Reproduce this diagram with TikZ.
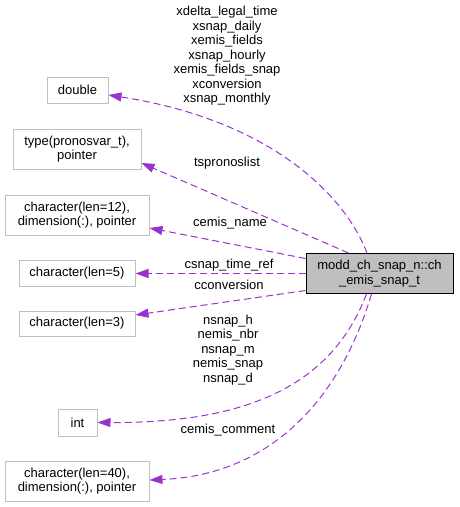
\documentclass[tikz,border=0pt]{standalone}
\usepackage{fontspec}
\setmainfont{Liberation Sans}
\usepackage{xcolor}
\usetikzlibrary{arrows.meta}
\definecolor{edgepurple}{HTML}{9A32CD}
\definecolor{boxgray}{HTML}{BFBFBF}

\begin{document}
\begin{tikzpicture}[x=1pt, y=-1pt, >={Triangle[length=13pt, width=9pt]},
                    font=\fontsize{13}{14.5}\selectfont]
\tikzstyle{member}=[shape=rectangle, draw=boxgray, line width=1pt,
                    inner sep=1pt, align=center]
\tikzstyle{compound}=[member, draw=black, fill=boxgray]
\tikzstyle{uses}=[->, draw=edgepurple, line width=1pt,
                    dash pattern=on 7pt off 4pt]
\tikzstyle{lbl}=[align=center, inner sep=0pt]
  \useasboundingbox (0,0) rectangle (459,507);
  \node[compound, minimum width=147pt, minimum height=40pt] (main) at (379.5,273.5)
      {modd\_ch\_snap\_n::ch\\\_emis\_snap\_t};
  \node[member, minimum width=61pt, minimum height=26pt] (double) at (77.5,90) {double};
  \node[member, minimum width=128pt, minimum height=40pt] (pronos) at (77,149)
      {type(pronosvar\_t),\\pointer};
  \node[member, minimum width=144pt, minimum height=40pt] (char12) at (77,215)
      {character(len=12),\\ dimension(:), pointer};
  \node[member, minimum width=116pt, minimum height=26pt] (char5) at (77,273.5) {character(len=5)};
  \node[member, minimum width=116pt, minimum height=25pt] (char3) at (77,323.5) {character(len=3)};
  \node[member, minimum width=39pt, minimum height=27pt] (int) at (77.5,422.5) {int};
  \node[member, minimum width=144pt, minimum height=40pt] (char40) at (77,481)
      {character(len=40),\\ dimension(:), pointer};
  % member names
  \node[lbl] (xlbl) at (227,56) {xdelta\_legal\_time\\xsnap\_daily\\xemis\_fields\\xsnap\_hourly\\
      xemis\_fields\_snap\\xconversion\\xsnap\_monthly};
  \node[lbl] (tslbl) at (227,163) {tspronoslist};
  \node[lbl] (namelbl) at (230,223) {cemis\_name};
  \node[lbl] (timelbl) at (229,265) {csnap\_time\_ref};
  \node[lbl] (convlbl) at (229,285) {cconversion};
  \node[lbl] (nlbl) at (228,350) {nsnap\_h\\nemis\_nbr\\nsnap\_m\\nemis\_snap\\nsnap\_d};
  \node[lbl] (commentlbl) at (228,430) {cemis\_comment};
  % edges
  \draw[uses] ([xshift=-12.5pt]main.north) .. controls (345,195) and (270,120) .. ([yshift=-5pt]double.east);
  \draw[uses] ([xshift=-31pt]main.north) -- ([yshift=-14pt]pronos.east);
  \draw[uses] ([yshift=15pt]main.west) -- ([yshift=-13pt]char12.east);
  \draw[uses] (main.west) -- (char5.east);
  \draw[uses] ([yshift=-17pt]main.west) -- ([yshift=8.5pt]char3.east);
  \draw[uses] ([xshift=-13pt]main.south) .. controls (330,390) and (240,423) .. (int.east);
  \draw[uses] ([xshift=-8pt]main.south) .. controls (340,400) and (270,475) .. ([yshift=1pt]char40.east);
\end{tikzpicture}
\end{document}
